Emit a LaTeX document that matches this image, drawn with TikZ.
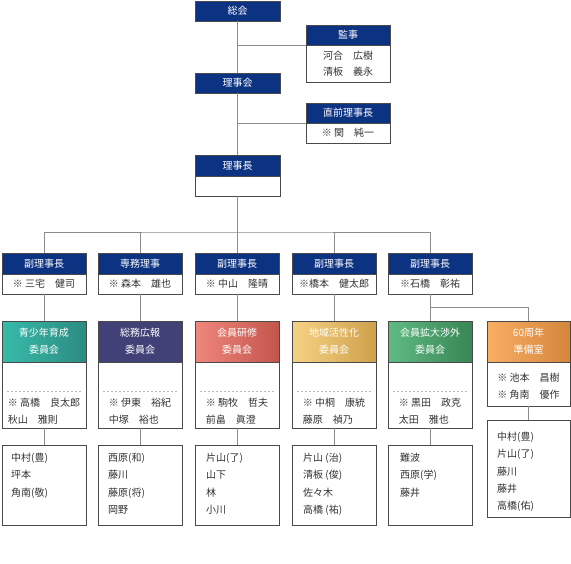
\documentclass[tikz,border=0pt]{standalone}
\usepackage{fontspec}
\setmainfont{Noto Sans CJK JP}
\usepackage{tikz}
\usetikzlibrary{positioning, calc}
\usepackage{xcolor}
\definecolor{OrgNavy}{HTML}{0C3282}
\definecolor{BoxEdge}{HTML}{4A4A4A}
\definecolor{LinkGray}{HTML}{8C8C8C}
\definecolor{NameGray}{HTML}{333333}
\definecolor{TealL}{HTML}{38BBA9}
\definecolor{TealR}{HTML}{2C8B82}
\definecolor{IndigoC}{HTML}{414177}
\definecolor{CoralL}{HTML}{F0877C}
\definecolor{CoralR}{HTML}{C2554C}
\definecolor{GoldL}{HTML}{F5D384}
\definecolor{GoldR}{HTML}{CFA04B}
\definecolor{GreenL}{HTML}{60BA83}
\definecolor{GreenR}{HTML}{388654}
\definecolor{OrangeL}{HTML}{F9AF63}
\definecolor{OrangeR}{HTML}{D4853C}

\begin{document}
\begin{tikzpicture}[x=1pt, y=-1pt,
    headbox/.style={draw=BoxEdge, line width=0.8pt, fill=OrgNavy, text=white,
      font=\fontsize{10}{12}\selectfont, minimum width=84pt, minimum height=20pt,
      inner sep=0pt, outer sep=0pt, anchor=north west},
    namebox/.style={draw=BoxEdge, line width=0.8pt, fill=white, text=NameGray,
      font=\fontsize{10}{16}\selectfont, minimum width=84pt, minimum height=20pt,
      inner sep=0pt, outer sep=0pt, anchor=north west, align=center},
    comhead/.style={headbox, minimum height=41pt, align=center, font=\fontsize{10}{17}\selectfont},
    members/.style={text=NameGray, font=\fontsize{10}{17.3}\selectfont, inner sep=0pt, align=left},
    link/.style={draw=LinkGray, line width=1pt},
    split/.style={draw=LinkGray!60, dash pattern=on 2pt off 2pt, line width=0.7pt}]
  \useasboundingbox (0,0) rectangle (571,563);

  % Top column
  \node[headbox, minimum width=85pt] (soukai) at (195,1) {総会};
  \node[headbox] (kanji) at (306,25) {監事};
  \node[namebox, minimum height=37pt] (kanji-names) at (306,45) {河合　広樹\\清板　義永};
  \node[headbox, minimum width=85pt] (rijikai) at (195,73) {理事会};
  \node[headbox] (zenrijicho) at (306,103) {直前理事長};
  \node[namebox] (zenrijicho-names) at (306,123) {※ 関　純一};
  \node[headbox, minimum width=85pt, minimum height=21pt] (rijicho) at (195,155) {理事長};
  \node[namebox, minimum width=85pt] (rijicho-names) at (195,176) {};

  % Vice-chairs
  \node[headbox, minimum height=21pt] (vice1) at (2,253) {副理事長};
  \node[namebox] (vice1-names) at (2,274) {※ 三宅　健司};
  \node[headbox, minimum height=21pt] (vice2) at (98,253) {専務理事};
  \node[namebox] (vice2-names) at (98,274) {※ 森本　雄也};
  \node[headbox, minimum height=21pt] (vice3) at (195,253) {副理事長};
  \node[namebox] (vice3-names) at (195,274) {※ 中山　隆晴};
  \node[headbox, minimum height=21pt] (vice4) at (292,253) {副理事長};
  \node[namebox] (vice4-names) at (292,274) {※橋本　健太郎};
  \node[headbox, minimum height=21pt] (vice5) at (388,253) {副理事長};
  \node[namebox] (vice5-names) at (388,274) {※石橋　彰祐};

  % Committees
  \node[comhead, left color=TealL, right color=TealR] (seishonen) at (2,321) {青少年育成\\委員会};
  \node[namebox, minimum height=66pt] (seishonen-names) at (2,362) {};
  \node[members, below=36pt of seishonen-names.north] {※ 高橋　良太郎\\秋山　雅則};

  \node[comhead, fill=IndigoC] (soumu) at (98,321) {総務広報\\委員会};
  \node[namebox, minimum height=66pt] (soumu-names) at (98,362) {};
  \node[members, below=36pt of soumu-names.north] {※ 伊東　裕紀\\中塚　裕也};

  \node[comhead, left color=CoralL, right color=CoralR] (kenshu) at (195,321) {会員研修\\委員会};
  \node[namebox, minimum height=66pt] (kenshu-names) at (195,362) {};
  \node[members, below=36pt of kenshu-names.north] {※ 駒牧　哲夫\\前畠　眞澄};

  \node[comhead, left color=GoldL, right color=GoldR] (chiiki) at (292,321) {地域活性化\\委員会};
  \node[namebox, minimum height=66pt] (chiiki-names) at (292,362) {};
  \node[members, below=36pt of chiiki-names.north] {※ 中桐　康統\\藤原　禎乃};

  \node[comhead, left color=GreenL, right color=GreenR] (kakudai) at (388,321) {会員拡大渉外\\委員会};
  \node[namebox, minimum height=66pt] (kakudai-names) at (388,362) {};
  \node[members, below=36pt of kakudai-names.north] {※ 黒田　政克\\太田　雅也};

  \node[comhead, minimum width=83pt, left color=OrangeL, right color=OrangeR] (shuunen) at (487,321) {60周年\\準備室};
  \node[namebox, minimum width=83pt, minimum height=44pt] (shuunen-names) at (487,362) {};
  \node[members, below=11pt of shuunen-names.north, font=\fontsize{10}{16.5}\selectfont] {※ 池本　昌樹\\※ 角南　優作};

  % Dashed separators
  \foreach \c in {seishonen, soumu, kenshu, chiiki, kakudai}
    \draw[split] ($(\c-names.north west)+(5,29)$) -- ($(\c-names.north east)+(-5,29)$);

  % Staff boxes
  \node[namebox, minimum height=80pt] (seishonen-staff) at (2,445) {};
  \node[members, below right=8pt and 9pt of seishonen-staff.north west] {中村(豊)\\坪本\\角南(敬)};
  \node[namebox, minimum height=80pt] (soumu-staff) at (98,445) {};
  \node[members, below right=8pt and 10pt of soumu-staff.north west] {西原(和)\\藤川\\藤原(将)\\岡野};
  \node[namebox, minimum height=80pt] (kenshu-staff) at (195,445) {};
  \node[members, below right=8pt and 11pt of kenshu-staff.north west] {片山(了)\\山下\\林\\小川};
  \node[namebox, minimum height=80pt] (chiiki-staff) at (292,445) {};
  \node[members, below right=8pt and 11pt of chiiki-staff.north west] {片山 (治)\\清板 (俊)\\佐々木\\高橋 (祐)};
  \node[namebox, minimum height=80pt] (kakudai-staff) at (388,445) {};
  \node[members, below right=8pt and 12pt of kakudai-staff.north west] {難波\\西原(学)\\藤井};
  \node[namebox, minimum width=83pt, minimum height=97pt] (shuunen-staff) at (487,420) {};
  \node[members, below right=12pt and 10pt of shuunen-staff.north west] {中村(豊)\\片山(了)\\藤川\\藤井\\高橋(佑)};

  % Trunk and branches
  \coordinate (bus) at (237.5,232);
  \draw[link] (soukai) -- (rijikai);
  \draw[link] (rijikai) -- (rijicho);
  \draw[link] (kanji-names.north west) -- (kanji-names.north west -| soukai.south);
  \draw[link] (zenrijicho-names.north west) -- (zenrijicho-names.north west -| rijikai.south);
  \draw[link] (rijicho-names) -- (bus);
  \draw[link] (vice1) |- (bus) -| (vice5);
  \draw[link] (vice2) -- (vice2 |- bus);
  \draw[link] (vice3) -- (vice3 |- bus);
  \draw[link] (vice4) -- (vice4 |- bus);

  % Vice-chairs to committees
  \draw[link] (vice1-names) -- (seishonen);
  \draw[link] (vice2-names) -- (soumu);
  \draw[link] (vice3-names) -- (kenshu);
  \draw[link] (vice4-names) -- (chiiki);
  \draw[link] (vice5-names) -- (kakudai);
  \coordinate (fork) at ($(vice5-names.south)!0.5!(kakudai.north)$);
  \draw[link] (fork) -| (shuunen);

  % Committees to staff
  \draw[link] (seishonen-names) -- (seishonen-staff);
  \draw[link] (soumu-names) -- (soumu-staff);
  \draw[link] (kenshu-names) -- (kenshu-staff);
  \draw[link] (chiiki-names) -- (chiiki-staff);
  \draw[link] (kakudai-names) -- (kakudai-staff);
  \draw[link] (shuunen-names) -- (shuunen-staff);
\end{tikzpicture}
\end{document}
